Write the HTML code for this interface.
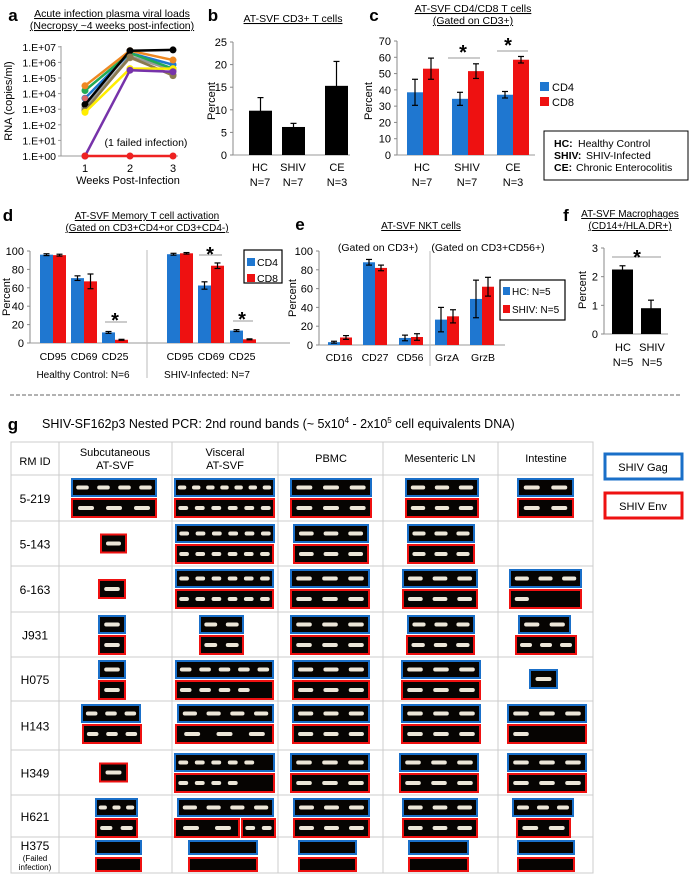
<!DOCTYPE html>
<html><head><meta charset="utf-8"><style>
html,body{margin:0;padding:0;background:#fff;}
svg{display:block;font-family:"Liberation Sans",Arial,sans-serif;}
</style></head><body>
<svg id="s" width="690" height="875" viewBox="0 0 690 875" xmlns="http://www.w3.org/2000/svg">
<rect width="690" height="875" fill="#fff"/>
</svg>
<script>
const S=document.getElementById('s');const NS='http://www.w3.org/2000/svg';
function el(t,a,txt){const e=document.createElementNS(NS,t);for(const k in a)e.setAttribute(k,a[k]);if(txt!==undefined)e.textContent=txt;S.appendChild(e);return e;}
function tx(x,y,s,size,opt){opt=opt||{};const a={x:x,y:y,'font-size':size,fill:opt.fill||'#000','text-anchor':opt.a||'middle'};if(opt.b)a['font-weight']='bold';if(opt.u)a['text-decoration']='underline';if(opt.r)a.transform='rotate(-90 '+x+' '+y+')';return el('text',a,s);}
function ln(x1,y1,x2,y2,c,w,d){const a={x1,y1,x2,y2,stroke:c||'#000','stroke-width':w||1};if(d)a['stroke-dasharray']=d;return el('line',a);}
function rc(x,y,w,h,f,o){const a={x,y,width:w,height:h,fill:f};if(o)Object.assign(a,o);return el('rect',a);}
function bar(x,w,base,sc,v,e,c){rc(x,base-v*sc,w,v*sc,c);if(e){const cx=x+w/2,t=base-(v+e)*sc,b=base-(v-e)*sc;ln(cx,t,cx,b,'#000',1.2);ln(cx-3,t,cx+3,t,'#000',1.2);ln(cx-3,b,cx+3,b,'#000',1.2);}}
function yaxis(x,top,bot,labels,fs){ln(x,top,x,bot,'#888',1);labels.forEach((l,i)=>{const y=bot-(bot-top)*i/(labels.length-1);ln(x-3,y,x,y,'#888',1);tx(x-6,y+4,l,fs||11,{a:'end'});});}
const BL='#1f77d0',RD='#ee1111';

// ---- panel a
tx(13,21,'a',17,{b:1});
tx(112,17,'Acute infection plasma viral loads',10.5,{u:1});
tx(112,29,'(Necropsy ~4 weeks post-infection)',10.5,{u:1});
const ay=v=>156-v*15.6;
ln(61,46,61,156,'#999',1);ln(61,156,178,156,'#999',1);
for(let i=0;i<=7;i++){ln(58,ay(i),61,ay(i),'#999',1);tx(56,ay(i)+4,'1.E+0'+i,10.5,{a:'end'});}
tx(12,101,'RNA (copies/ml)',11,{r:1});
[['1',85],['2',130],['3',173]].forEach(p=>tx(p[1],172,p[0],11));
tx(128,184,'Weeks Post-Infection',11);
tx(146,146,'(1 failed infection)',10.5);
const xs=[85,130,173];
const ser=[['#a08860',[3.0,6.3,5.2]],['#999',[3.1,6.4,5.5]],['#1f77d0',[3.7,6.6,5.85]],['#22aa55',[4.2,6.6,5.6]],['#ee8822',[4.5,6.75,6.15]],['#000',[3.3,6.75,6.8]],['#8a7a50',[2.9,6.35,5.15]],['#ffee00',[2.8,5.6,5.6]],['#7733aa',[0,5.5,5.4]],['#ee2222',[0,0,0]]];
ser.forEach(s=>{el('polyline',{points:xs.map((x,i)=>x+','+ay(s[1][i])).join(' '),fill:'none',stroke:s[0],'stroke-width':2.5});xs.forEach((x,i)=>el('circle',{cx:x,cy:ay(s[1][i]),r:3.5,fill:s[0]}));});
el('circle',{cx:85,cy:ay(3.7),r:3,fill:'#dd6666'});

// ---- panel b
tx(213,21,'b',17,{b:1});
tx(293,22,'AT-SVF CD3+ T cells',10.5,{u:1});
yaxis(233,42,155,['0','5','10','15','20','25'],11);
ln(233,155,350,155,'#999',1);
const bs=113/25;
bar(249,23,155,bs,9.8,2.9,'#000');bar(282,23,155,bs,6.2,0.8,'#000');bar(325,23,155,bs,15.3,5.4,'#000');
[['HC',260],['SHIV',293],['CE',337]].forEach(p=>{tx(p[1],171,p[0],11);});
tx(260,186,'N=7',11);tx(293,186,'N=7',11);tx(337,186,'N=3',11);
tx(215,101,'Percent',11,{r:1});

// ---- panel c
tx(374,21,'c',17,{b:1});
tx(473,12,'AT-SVF CD4/CD8 T cells',10.5,{u:1});
tx(473,24,'(Gated on CD3+)',10.5,{u:1});
yaxis(397,41,155,['0','10','20','30','40','50','60','70'],11);
ln(397,155,535,155,'#999',1);
const cs=114/70;
[[407,38.5,8,53,6.5],[452,34.5,4,51.5,4.5],[497,37,2,58.5,2]].forEach(g=>{bar(g[0],16,155,cs,g[1],g[2],BL);bar(g[0]+16,16,155,cs,g[3],g[4],RD);});
ln(448,58,480,58,'#999',1);tx(463,59,'*',20,{b:1});
ln(497,51,528,51,'#999',1);tx(508,52,'*',20,{b:1});
[['HC',422],['SHIV',467],['CE',513]].forEach(p=>tx(p[1],171,p[0],11));
[422,467].forEach(x=>tx(x,186,'N=7',11));tx(513,186,'N=3',11);
tx(372,101,'Percent',11,{r:1});
rc(540,82,9,9,BL);tx(552,91,'CD4',11,{a:'start'});
rc(540,97,9,9,RD);tx(552,106,'CD8',11,{a:'start'});
rc(544,131,144,49,'#fff',{stroke:'#000','stroke-width':1});
const lg=[['HC:','Healthy Control',147],['SHIV:','SHIV-Infected',159],['CE:','Chronic Enterocolitis',171]];
lg.forEach(l=>{tx(554,l[2],l[0],10.5,{a:'start',b:1});tx(l[0]=='SHIV:'?586:l[0]=='HC:'?578:576,l[2],l[1],10.5,{a:'start'});});

// ---- panel d
tx(8,221,'d',17,{b:1});
tx(147,219,'AT-SVF Memory T cell activation',10,{u:1});
tx(147,231,'(Gated on CD3+CD4+or CD3+CD4-)',10,{u:1});
yaxis(30,251,343,['0','20','40','60','80','100'],11);
ln(30,343,290,343,'#999',1);
ln(147,250,147,378,'#bbb',1);
const ds=92/100;
[[40,96,1,95.5,1],[71,70.5,2.5,67,8],[102,11.5,1,3.5,0.5],[167,96.5,1,97.5,0.8],[198,62.5,4,84,3],[230,13.5,1,4,0.5]].forEach(g=>{bar(g[0],13,343,ds,g[1],g[2],BL);bar(g[0]+13,13,343,ds,g[3],g[4],RD);});
ln(105,322,127,322,'#999',1);tx(115,327,'*',20,{b:1});
ln(199,255,222,255,'#999',1);tx(210,261,'*',20,{b:1});
ln(233,321,253,321,'#999',1);tx(242,326,'*',20,{b:1});
[['CD95',53],['CD69',84],['CD25',115],['CD95',180],['CD69',211],['CD25',242]].forEach(p=>tx(p[1],360,p[0],10.5));
tx(83,378,'Healthy Control: N=6',10);tx(207,378,'SHIV-Infected: N=7',10);
tx(10,297,'Percent',11,{r:1});
rc(244,250,38,33,'#fff',{stroke:'#000','stroke-width':1.2});
rc(247,258,8,8,BL);tx(257,266,'CD4',10.5,{a:'start'});
rc(247,274,8,8,RD);tx(257,282,'CD8',10.5,{a:'start'});

// ---- panel e
tx(300,230,'e',17,{b:1});
tx(421,229,'AT-SVF NKT cells',10,{u:1});
tx(378,251,'(Gated on CD3+)',10.5);tx(488,251,'(Gated on CD3+CD56+)',10.5);
yaxis(319,251,345,['0','20','40','60','80','100'],11);
ln(319,345,505,345,'#999',1);
ln(430,251,430,366,'#bbb',1);
const es=94/100;
[[328,3,1,8,2],[363,88,3,82,3],[399,7.5,3,8.5,3.5],[435,27,13,30.5,7],[470,49,20,62,10]].forEach(g=>{bar(g[0],12,345,es,g[1],g[2],BL);bar(g[0]+12,12,345,es,g[3],g[4],RD);});
[['CD16',339],['CD27',375],['CD56',410],['GrzA',447],['GrzB',483]].forEach(p=>tx(p[1],361,p[0],10.5));
tx(296,298,'Percent',11,{r:1});
rc(500,280,65,40,'#fff',{stroke:'#000','stroke-width':1.2});
rc(503,287,7,8,BL);tx(512,295,'HC: N=5',10,{a:'start'});
rc(503,305,7,8,RD);tx(512,313,'SHIV: N=5',10,{a:'start'});

// ---- panel f
tx(566,221,'f',17,{b:1});
tx(630,217,'AT-SVF Macrophages',10,{u:1});
tx(630,229,'(CD14+/HLA.DR+)',10,{u:1});
yaxis(604,248,334,['0','1','2','3'],11);
ln(604,334,668,334,'#999',1);
const fs=86/3;
bar(612,21,334,fs,2.25,0.13,'#000');bar(641,20,334,fs,0.9,0.28,'#000');
ln(612,257,661,257,'#999',1);tx(637,264,'*',20,{b:1});
tx(623,351,'HC',11);tx(652,351,'SHIV',11);tx(623,366,'N=5',11);tx(652,366,'N=5',11);
tx(586,290,'Percent',11,{r:1});

// ---- dashed
ln(10,395,680,395,'#999',1.5,'4,2');

// ---- panel g
tx(13,430,'g',17,{b:1});
const tt=el('text',{x:42,y:428,'font-size':12.5,fill:'#000'});
tt.innerHTML='SHIV-SF162p3 Nested PCR: 2nd round bands  (~ 5x10<tspan font-size="8" dy="-5">4</tspan><tspan dy="5"> - 2x10</tspan><tspan font-size="8" dy="-5">5</tspan><tspan dy="5"> cell equivalents DNA)</tspan>';
const rows=[442,475,521,566,612,657,701,750,795,837,873];
const cols=[11,59,172,278,383,498,593];
rc(11,442,582,431,'none',{stroke:'#ccc','stroke-width':1});
rows.slice(1,-1).forEach(y=>ln(11,y,593,y,'#ccc',1));
cols.slice(1,-1).forEach(x=>ln(x,442,x,873,'#ccc',1));
tx(35,465,'RM ID',11);
tx(115,456,'Subcutaneous',11);tx(115,469,'AT-SVF',11);
tx(225,456,'Visceral',11);tx(225,469,'AT-SVF',11);
tx(331,462,'PBMC',11);tx(440,462,'Mesenteric LN',11);tx(546,462,'Intestine',11);
const ids=['5-219','5-143','6-163','J931','H075','H143','H349','H621'];
ids.forEach((id,i)=>tx(35,(rows[i+1]+rows[i+2])/2+5,id,12));
tx(35,850,'H375',12);tx(35,861,'(Failed',8);tx(35,870,'infection)',8);
rc(605,454,77,25,'#fff',{stroke:'#1a6fc8','stroke-width':3});tx(643,471,'SHIV Gag',11);
rc(605,493,77,25,'#fff',{stroke:'#ee1111','stroke-width':3});tx(643,510,'SHIV Env',11);
function gel(x1,x2,y,h,c,n,lanes){rc(x1,y,x2-x1,h,'#060402',{stroke:c,'stroke-width':2});const L=lanes||n;const lw=(x2-x1)/L;for(let i=0;i<n;i++){const bw=Math.min(lw*0.6,16);rc(x1+lw*i+(lw-bw)/2,y+h/2-2,bw,4,'#ece6d8',{rx:2});}}
const G='#1a6fc8',R='#ee1111';
const spec=[
 [[72,156,'g',4],[72,156,'e',3],[175,274,'g',7],[175,274,'e',6],[291,371,'g',3],[291,371,'e',3],[406,478,'g',3],[406,478,'e',3],[518,573,'g',2],[518,573,'e',2]],
 [[101,126,'c',1],[176,274,'g',6],[176,273,'e',6],[294,368,'g',3],[294,368,'e',3],[408,474,'g',3],[408,474,'e',3]],
 [[99,125,'c',1],[176,273,'g',6],[176,273,'e',6],[291,369,'g',3],[291,369,'e',3],[403,477,'g',3],[403,477,'e',3],[510,581,'g',3],[510,581,'e',1,3]],
 [[99,125,'g',1],[99,125,'e',1],[200,243,'g',2],[200,243,'e',2],[291,369,'g',3],[291,369,'e',3],[408,474,'g',3],[407,474,'e',3],[519,570,'g',2],[516,576,'e',3]],
 [[99,125,'g',1],[99,125,'e',1],[176,273,'g',5],[176,273,'e',4,5],[293,369,'g',3],[293,369,'e',3],[402,480,'g',3],[402,480,'e',3],[530,557,'c',1]],
 [[82,140,'g',3],[83,141,'e',3],[178,273,'g',4],[176,273,'e',3],[293,369,'g',3],[293,369,'e',3],[402,480,'g',3],[402,480,'e',3],[508,586,'g',3],[508,586,'e',1,3]],
 [[100,127,'c',1],[175,274,'g',5,6],[175,274,'e',4,6],[291,369,'g',3],[291,369,'e',3],[400,478,'g',3],[400,478,'e',3],[508,586,'g',3],[508,586,'e',3]],
 [[96,137,'g',3],[96,137,'e',2],[178,273,'g',4],[175,239,'e',2],[242,275,'e',2],[294,369,'g',3],[294,369,'e',3],[403,477,'g',3],[403,477,'e',3],[513,573,'g',3],[517,570,'e',2]]
];
spec.forEach((r,i)=>{const top=rows[i+1],bot=rows[i+2];r.forEach(b=>{if(b[2]=='g')gel(b[0],b[1],top+4,17,G,b[3],b[4]);else if(b[2]=='e')gel(b[0],b[1],top+24,18,R,b[3],b[4]);else{const mid=(top+bot)/2;gel(b[0],b[1],mid-9,18,(i==4&&b[0]>500)?G:R,b[3]);}});});
[[96,141],[189,257],[299,356],[409,468],[518,574]].forEach(b=>{rc(b[0],841,b[1]-b[0],13,'#060402',{stroke:G,'stroke-width':2});rc(b[0],858,b[1]-b[0],13,'#060402',{stroke:R,'stroke-width':2});});
</script>
</body></html>
